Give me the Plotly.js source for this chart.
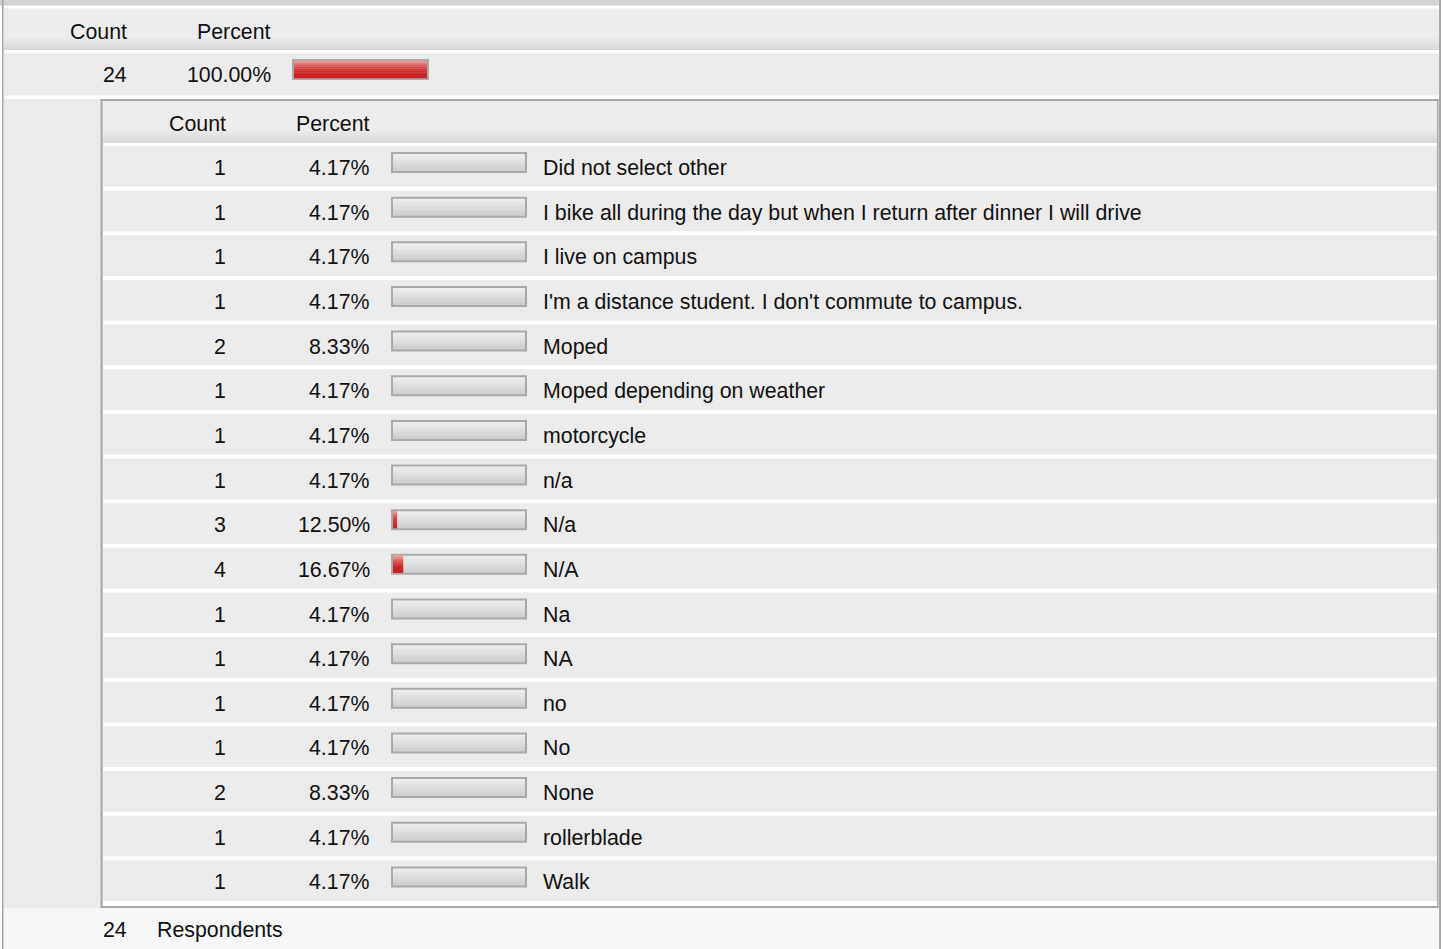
<!DOCTYPE html>
<html><head><meta charset="utf-8">
<script src="https://cdn.plot.ly/plotly-3.0.1.min.js"></script>
<style>html,body{margin:0;padding:0;background:#fff;overflow:hidden}</style>
</head><body><div id="chart" style="width:1443px;height:949px"></div>
<script>
// ---- data ----
const labels = ["Did not select other",
  "I bike all during the day but when I return after dinner I will drive",
  "I live on campus",
  "I'm a distance student. I don't commute to campus.",
  "Moped","Moped depending on weather","motorcycle","n/a","N/a","N/A",
  "Na","NA","no","No","None","rollerblade","Walk"];
const counts = [1,1,1,1,2,1,1,1,3,4,1,1,1,1,2,1,1];
const percents = [4.17,4.17,4.17,4.17,8.33,4.17,4.17,4.17,12.50,16.67,4.17,4.17,4.17,4.17,8.33,4.17,4.17];
const totalCount = 24;
const totalPercent = 100.00;
const respondents = 24;
const headerCount = "Count";
const headerPercent = "Percent";
const footerText = "Respondents";

// ---- layout helpers ----
const W = 1443, H = 949;
const FONT = {family: '"Liberation Sans", Arial, sans-serif', size: 21.33, color: '#111111'};
const TY = 1; // text vertical nudge
const shapes = [], annotations = [];
function rect(x0, x1, y0, y1, color) {
  shapes.push({type:'rect', xref:'paper', yref:'paper', x0:x0/W, x1:x1/W, y0:1-y0/H, y1:1-y1/H,
    fillcolor:color, line:{width:0}, layer:'below'});
}
function h2r(h){h=h.replace('#','');return [0,2,4].map(i=>parseInt(h.substr(i,2),16));}
function mix(a,b,t){const A=h2r(a),B=h2r(b);return 'rgb('+A.map((v,i)=>Math.round(v+(B[i]-v)*t)).join(',')+')';}
function grad(x0,x1,y0,y1,c0,c1,n){
  const h=(y1-y0)/n;
  for(let k=0;k<n;k++){rect(x0,x1,y0+k*h,Math.min(y1,y0+(k+1)*h+0.6),mix(c0,c1,n===1?0:k/(n-1)));}
}
function txt(x,y,s,anchor){
  annotations.push({xref:'paper', yref:'paper', x:x/W, y:1-(y+TY)/H, text:String(s), showarrow:false,
    xanchor:anchor, yanchor:'middle', font:FONT, borderpad:0, borderwidth:0});
}

const ROW_BG = '#ebebeb';
const HEAD_TOP = '#ececec', HEAD_BOT = '#d7d7d7';
const BORDER = '#a8a8a8';

// outer frame
rect(0, 1441, 0, 5.5, '#d2d2d2');
rect(2, 3.7, 0, H, BORDER);
rect(1439, 1441, 0, H, BORDER);
// outer header
rect(3.7, 1439, 8.5, 36, HEAD_TOP);
grad(3.7, 1439, 36, 50, HEAD_TOP, HEAD_BOT, 8);
// total row
rect(3.7, 1439, 53.5, 95.5, ROW_BG);
// left cell of nested section
rect(3.7, 100.5, 99, 908, ROW_BG);
// inner table border
rect(100.5, 1439, 99, 101, BORDER);
rect(100.5, 102.8, 99, 908, BORDER);
rect(1437, 1438.6, 99, 908, BORDER);
rect(100.5, 1438.6, 906, 908, BORDER);
// inner header
rect(102.8, 1437, 101, 129, HEAD_TOP);
grad(102.8, 1437, 129, 143, HEAD_TOP, HEAD_BOT, 8);
// footer
rect(3.7, 1439, 908, H, '#f7f7f7');

// rows
const ROW_TOP0 = 146, PITCH = 44.65, ROW_H = 40.6;
const rowC = i => ROW_TOP0 + i*PITCH + 21;
function track(x0, x1, c) {
  rect(x0, x1, c-15, c+6, '#a9a9a9');
  grad(x0+2, x1-2, c-13, c+4, '#ededed', '#cfcfcf', 10);
}
labels.forEach((lab, i) => {
  const top = ROW_TOP0 + i*PITCH;
  rect(102.8, 1437, top, top+ROW_H, ROW_BG);
  const c = rowC(i);
  track(391, 527, c);
  txt(226, c, counts[i], 'right');
  txt(370, c, percents[i].toFixed(2)+'%', 'right');
  txt(543, c, lab, 'left');
});
// total bar track
track(292, 429, 74);

// header / total / footer texts
txt(127, 31, headerCount, 'right');
txt(271, 31, headerPercent, 'right');
txt(127, 74, totalCount, 'right');
txt(271, 74, totalPercent.toFixed(2)+'%', 'right');
txt(226, 123, headerCount, 'right');
txt(370, 123, headerPercent, 'right');
txt(127, 929, respondents, 'right');
txt(157, 929, footerText, 'left');

// ---- red bars (gradient made of stacked thin bar traces) ----
const redStops = ['#ea9696','#e57c7c','#de6060','#d74a4a','#d13838','#cd2d2d','#ca2626','#c92323','#c82121'];
const N = redStops.length, SH = 17/N;
const traces = [{type:'scatter', x:[], y:[], xaxis:'x', yaxis:'y', hoverinfo:'skip', showlegend:false}];
redStops.forEach((col, k) => {
  traces.push({type:'bar', orientation:'h', x:percents,
    y:labels.map((_, i) => rowC(i) - 13 + (k+0.5)*SH), width:SH+0.35, base:0,
    marker:{color:col, line:{width:0}}, xaxis:'x2', yaxis:'y', hoverinfo:'skip', showlegend:false});
  traces.push({type:'bar', orientation:'h', x:[totalPercent],
    y:[74 - 13 + (k+0.5)*SH], width:SH+0.35, base:0,
    marker:{color:col, line:{width:0}}, xaxis:'x3', yaxis:'y', hoverinfo:'skip', showlegend:false});
});

const layout = {
  width: W, height: H, margin:{l:0,r:0,t:0,b:0,pad:0},
  paper_bgcolor:'#ffffff', plot_bgcolor:'rgba(0,0,0,0)',
  showlegend:false, barmode:'overlay', dragmode:false,
  xaxis:{range:[0,W], domain:[0,1], visible:false, fixedrange:true},
  yaxis:{range:[H,0], domain:[0,1], visible:false, fixedrange:true},
  xaxis2:{range:[9.7,100], domain:[393/W,525/W], anchor:'y', visible:false, fixedrange:true},
  xaxis3:{range:[9.7,100], domain:[294/W,427/W], anchor:'y', visible:false, fixedrange:true},
  shapes, annotations, hovermode:false
};
Plotly.newPlot('chart', traces, layout, {staticPlot:true, displayModeBar:false});
</script></body></html>
